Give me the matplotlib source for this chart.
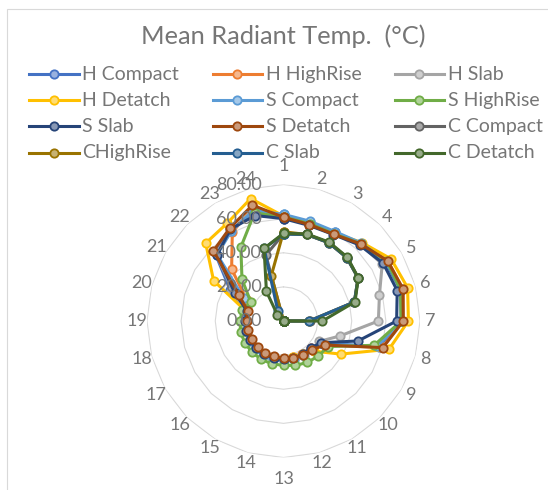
import numpy as np
import matplotlib.pyplot as plt
from matplotlib.lines import Line2D
from matplotlib.patches import Rectangle
from matplotlib.colors import to_rgb

plt.rcParams['font.family'] = ['Lato', 'DejaVu Sans']

hours = [str(h) for h in range(1, 25)]
grid_levels = [0, 20, 40, 60, 80]

series_names = ['H Compact', 'H HighRise', 'H Slab', 'H Detatch',
                'S Compact', 'S HighRise', 'S Slab', 'S Detatch',
                'C Compact', 'CHighRise', 'C Slab', 'C Detatch']
colors = ['#4472C4', '#ED7D31', '#A5A5A5', '#FFC000',
          '#5B9BD5', '#70AD47', '#264478', '#9E480E',
          '#636363', '#997300', '#255E91', '#43682B']

# mean radiant temperature per hour (1..24)
h_compact = [62, 60, 60, 64, 69, 71, 69, 58, 26, 22.5, 22.5, 22.5, 22.5, 22.5, 22.5, 22.5, 22.5, 22.5, 22.5, 23, 36, 57, 61, 67]
h_highrise = [61, 58.5, 58.7, 64, 70.5, 72.5, 70, 60, 28, 22.5, 22, 22, 22, 22, 22, 22, 22, 22, 22, 22, 25, 43, 60, 69]
h_slab = [61, 59, 59, 63.5, 66.8, 58.2, 55.6, 34.1, 24, 23.5, 23.5, 23.5, 23.5, 23.5, 23.5, 23.5, 23.5, 23.5, 23.5, 23, 34, 56, 61, 68]
h_detatch = [61.5, 59.5, 59.5, 65, 72.8, 75.3, 73.2, 64, 38.8, 25, 22.5, 22, 22, 22, 22, 22, 22, 22, 22, 23, 47.3, 64.5, 66.1, 74.3]
s_compact = [62.5, 60.5, 60.5, 64.5, 69.5, 71.5, 69, 57, 27, 23, 23, 23, 23, 23, 23, 23, 23, 23, 23, 24, 27, 55, 61, 67]
s_highrise = [61, 59, 59, 64, 70, 71, 69, 55, 30, 29, 28, 27, 26, 26, 26, 26, 26, 26, 25.5, 25, 22, 34.4, 50, 65.6]
s_slab = [60, 58, 58.5, 63, 67.5, 69, 66.3, 45.2, 25.5, 22.5, 22.5, 22.5, 22.5, 22.5, 22.5, 22.5, 22.5, 22.5, 22.5, 22, 33, 55, 62.2, 64]
s_detatch = [60.8, 58.5, 58.7, 63.9, 70.5, 72.5, 70.2, 60.3, 28.2, 23.7, 23, 22.6, 21.9, 21.4, 21.5, 21.5, 21.2, 21.3, 21.6, 21.6, 30, 58.1, 62.9, 70.3]
c_compact = [51, 52.5, 53, 52.5, 50.5, 43, 15.5, 0, 0, 0, 0, 0, 0, 0, 0, 0, 0, 0, 0, 0, 0, 0, 0, 40]
c_highrise = [52.3, 52.5, 53, 52.5, 50.5, 43, 15, 0, 0, 0, 0, 0, 0, 0, 0, 0, 0, 0, 0, 0, 0, 0, 0, 27.6]
c_slab = [51, 52.5, 53, 52.5, 50.5, 43, 15, 0, 0, 0, 0, 0, 0, 0, 0, 0, 0, 0, 0, 0, 0, 0, 6.5, 44]
c_detatch = [51.4, 52.8, 53.4, 52.9, 50.6, 43.4, 22.8, 0, 0, 0, 0, 0, 0, 0, 0, 0, 0, 0, 0, 0, 0, 5, 20, 44]

series = [h_compact, h_highrise, h_slab, h_detatch,
          s_compact, s_highrise, s_slab, s_detatch,
          c_compact, c_highrise, c_slab, c_detatch]

text_color = '#767676'
grid_color = '#D9D9D9'
W, H = 548, 490


def tint(c, k=0.45):
    r, g, b = to_rgb(c)
    return (r + (1 - r) * k, g + (1 - g) * k, b + (1 - b) * k)


fig = plt.figure(figsize=(W / 100, H / 100), dpi=100)

# chart area border (runs off the right and bottom edges)
fig.add_artist(Rectangle((7 / W, -0.1), 2, 1.1 - 8.7 / H, transform=fig.transFigure,
                         fill=False, edgecolor=grid_color, lw=0.8))

fig.text(283 / W, 1 - 36.6 / H, 'Mean Radiant Temp.  (°C)', ha='center', va='center',
         fontsize=18.3, color=text_color)

# radar area
cx, cy, R = 283.5, 321, 136.5
ax = fig.add_axes([(cx - R) / W, (H - cy - R) / H, 2 * R / W, 2 * R / H], projection='polar')
ax.set_theta_offset(np.pi / 2)
ax.set_theta_direction(-1)
ax.set_ylim(0, 80)
ax.grid(False)
ax.spines['polar'].set_visible(False)
ax.set_xticks([])
ax.set_yticks([])
ax.patch.set_visible(False)

theta = np.deg2rad(np.arange(24) * 15)
theta_c = np.append(theta, theta[0])

for lvl in grid_levels[1:]:
    ax.plot(theta_c, [lvl] * 25, color=grid_color, lw=0.8, zorder=0)

# value axis labels sit on top of the series
for lvl in grid_levels:
    ax.annotate(f'{lvl:.2f}', xy=(0, lvl), xytext=(-22 * 0.72, 0), textcoords='offset points',
                ha='right', va='center', fontsize=13, color=text_color, zorder=30)

for i, lab in enumerate(hours):
    s, c = np.sin(theta[i]), np.cos(theta[i])
    off = 10.5
    if abs(s) < 0.01:
        off = 18.5 if c > 0 else 21
    ax.annotate(lab, xy=(theta[i], 80), xytext=(s * off * 0.72, c * off * 0.72),
                textcoords='offset points', ha='center', va='center',
                fontsize=13, color=text_color)

for k, (vals, col) in enumerate(zip(series, colors)):
    v = np.append(vals, vals[0])
    ax.plot(theta_c, v, color=col, lw=2.2, marker='o', markersize=6,
            markerfacecolor=tint(col), markeredgecolor=col, markeredgewidth=1.3,
            zorder=3 + k, clip_on=False)

# legend, three columns
col_x = [29.5, 212.6, 394.7]
row_y = [74.5, 100.5, 126.5, 152.5]
for k, (name, col) in enumerate(zip(series_names, colors)):
    x0, y0 = col_x[k % 3], row_y[k // 3]
    yf = 1 - y0 / H
    fig.add_artist(Line2D([x0 / W, (x0 + 49) / W], [yf, yf], transform=fig.transFigure,
                          color=col, lw=2.2))
    fig.add_artist(Line2D([(x0 + 24.5) / W], [yf], transform=fig.transFigure,
                          marker='o', markersize=6, markerfacecolor=tint(col),
                          markeredgecolor=col, markeredgewidth=1.3))
    fig.text((x0 + 53) / W, yf, name, ha='left', va='center', fontsize=14, color=text_color)

fig.savefig('out.png', dpi=100)
